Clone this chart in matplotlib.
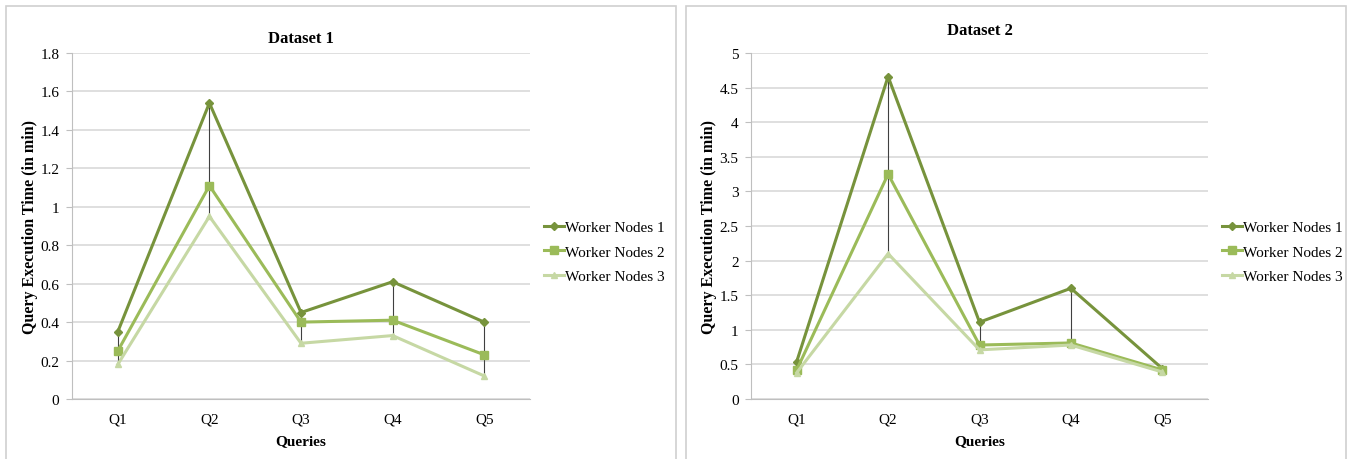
import matplotlib.pyplot as plt
from matplotlib.patches import Rectangle
import numpy as np

plt.rcParams['font.family'] = ['Liberation Serif', 'DejaVu Serif']

queries = ['Q1', 'Q2', 'Q3', 'Q4', 'Q5']
series_names = ['Worker Nodes 1', 'Worker Nodes 2', 'Worker Nodes 3']

# Dataset 1 (minutes)
d1_wn1 = [0.35, 1.54, 0.45, 0.61, 0.40]
d1_wn2 = [0.25, 1.11, 0.40, 0.41, 0.23]
d1_wn3 = [0.18, 0.95, 0.29, 0.33, 0.12]

# Dataset 2 (minutes)
d2_wn1 = [0.54, 4.66, 1.11, 1.60, 0.44]
d2_wn2 = [0.42, 3.25, 0.78, 0.81, 0.42]
d2_wn3 = [0.38, 2.10, 0.71, 0.78, 0.39]

colors = ['#77933C', '#9BBB59', '#C6D8A4']
markers = ['D', 's', '^']
msizes = [4, 6, 5]


def draw(ax, title, data, ymax, ystep, tpad):
    x = np.arange(len(queries))
    arr = np.array(data)
    # high-low lines
    ax.vlines(x, arr.min(axis=0), arr.max(axis=0), color='#404040', lw=0.8, zorder=2)
    for vals, c, m, ms, name in zip(data, colors, markers, msizes, series_names):
        ax.plot(x, vals, color=c, lw=2.2, marker=m, ms=ms, mec=c, mfc=c,
                label=name, zorder=3)
    ax.set_xlim(-0.5, len(queries) - 0.5)
    ax.set_ylim(0, ymax)
    ticks = np.arange(0, ymax + ystep / 2, ystep)
    ax.set_yticks(ticks)
    ax.set_yticklabels(['%g' % t for t in ticks])
    ax.set_xticks(x)
    ax.set_xticklabels(queries)
    ax.grid(axis='y', color='#D9D9D9', lw=1.2)
    ax.set_axisbelow(True)
    for s in ['top', 'right']:
        ax.spines[s].set_visible(False)
    ax.spines['left'].set_color('#BFBFBF')
    ax.spines['bottom'].set_color('#BFBFBF')
    ax.tick_params(axis='y', length=4, color='#BFBFBF', labelsize=11, pad=5)
    ax.tick_params(axis='x', length=0, labelsize=11, pad=10)
    ax.set_title(title, fontsize=12, fontweight='bold', pad=tpad)
    ax.set_xlabel('Queries', fontsize=11, fontweight='bold', labelpad=6)
    ax.set_ylabel('Query Execution Time (in min)', fontsize=11.5, fontweight='bold', labelpad=2)
    ax.legend(loc='center left', bbox_to_anchor=(1.03, 0.425), frameon=False,
              borderaxespad=0, borderpad=0,
              fontsize=11, handlelength=1.3, handletextpad=0.1, labelspacing=0.7)


fig = plt.figure(figsize=(13.49, 4.6), dpi=100)

# chart area borders (open at the bottom edge of the picture)
fig.patches.append(Rectangle((6 / 1349, -0.02), 670 / 1349, 453 / 460 + 0.02,
                             transform=fig.transFigure, fill=False, edgecolor='#D0D0D0', lw=1.2))
fig.patches.append(Rectangle((686 / 1349, -0.02), 660 / 1349, 453 / 460 + 0.02,
                             transform=fig.transFigure, fill=False, edgecolor='#D0D0D0', lw=1.2))

ax1 = fig.add_axes([72 / 1349, 60 / 460, 458 / 1349, 346 / 460])
draw(ax1, 'Dataset 1', [d1_wn1, d1_wn2, d1_wn3], 1.8, 0.2, 8)

ax2 = fig.add_axes([751 / 1349, 60 / 460, 457 / 1349, 346 / 460])
draw(ax2, 'Dataset 2', [d2_wn1, d2_wn2, d2_wn3], 5, 0.5, 14)

fig.savefig('out.png', dpi=100)
